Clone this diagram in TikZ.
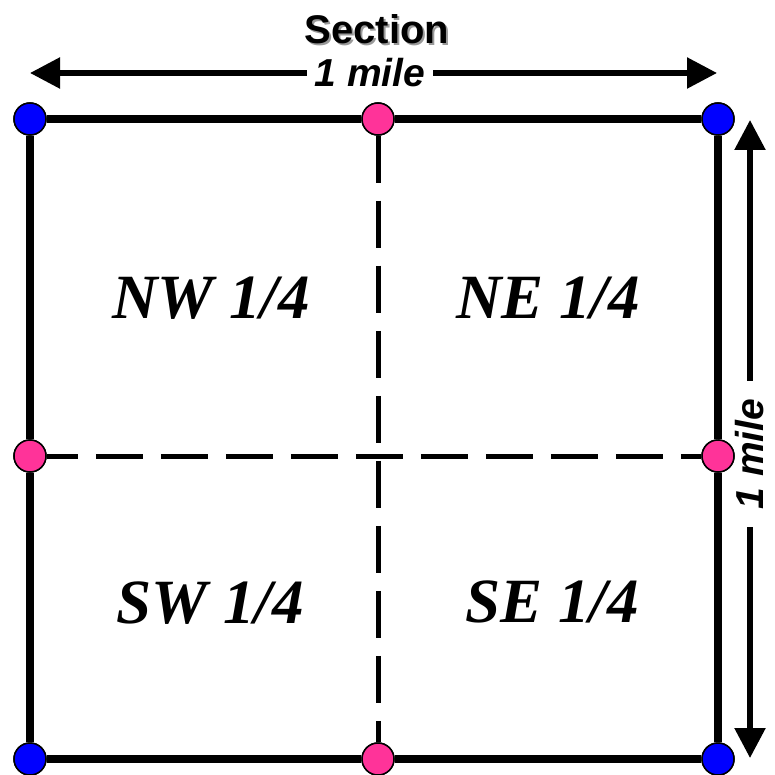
\documentclass[tikz,border=0pt]{standalone}
\usepackage{fontspec}
\setmainfont{Liberation Serif}
\setsansfont{Liberation Sans}
\usetikzlibrary{arrows.meta}

\definecolor{dotpink}{HTML}{FF3399}

\newcommand{\shadowtext}[1]{%
  \makebox[0pt][l]{\hspace{2pt}\raisebox{-2pt}{\textcolor{black!40}{#1}}}#1}

\tikzset{
  corner/.style={circle, draw=black, line width=1.5pt, fill=blue,
    minimum size=32pt, inner sep=0pt},
  midpt/.style={corner, fill=dotpink},
  boundary/.style={line width=7.5pt},
  quarterline/.style={line width=5pt, dash pattern=on 47pt off 18pt},
  dimarrow/.style={line width=5.5pt, -{Triangle[length=30pt, width=30pt]}},
  quarterlbl/.style={font=\fontsize{63}{63}\selectfont\bfseries\itshape},
  dimlbl/.style={font=\fontsize{39}{39}\selectfont\sffamily\bfseries\itshape}
}

\begin{document}
\begin{tikzpicture}[x=1pt, y=-1pt]

\useasboundingbox ( 0, 0 ) rectangle ( 774, 775 );

% Corner and mid points
\node (c-nw) at ( 30, 119 ) [corner] {};
\node (c-ne) at ( 718, 119 ) [corner] {};
\node (c-sw) at ( 30, 759 ) [corner] {};
\node (c-se) at ( 718, 759 ) [corner] {};

\node (m-n) at ( 378, 119 ) [midpt] {};
\node (m-s) at ( 378, 759 ) [midpt] {};
\node (m-w) at ( 30, 456 ) [midpt] {};
\node (m-e) at ( 718, 456 ) [midpt] {};

% Section boundary
\draw [boundary] (c-nw) -- (m-n) -- (c-ne) -- (m-e) -- (c-se)
  -- (m-s) -- (c-sw) -- (m-w) -- (c-nw);

% Quarter lines
\draw [quarterline] (m-n) -- (m-s);
\draw [quarterline, dash phase=16pt] (m-w) -- (m-e);

% Redraw dots on top
\foreach \p/\s in {c-nw/corner, c-ne/corner, c-sw/corner, c-se/corner,
  m-n/midpt, m-s/midpt, m-w/midpt, m-e/midpt}
  \node at (\p) [\s] {};

% Title
\node (sec) at ( 377, 30 ) [font=\fontsize{40}{40}\selectfont\sffamily\bfseries] {\shadowtext{Section}};

% Dimensions
\coordinate (top-l) at ( 30, 73 );
\coordinate (top-r) at ( 717, 73 );
\node (top-lbl) at ( 370, 73 ) [dimlbl, inner xsep=8pt] {1 mile};
\draw [dimarrow] (top-lbl) -- (top-l);
\draw [dimarrow] (top-lbl) -- (top-r);

\coordinate (right-t) at ( 750, 120 );
\coordinate (right-b) at ( 750, 758 );
\node (right-lbl) at ( 750, 454 ) [dimlbl, rotate=90, inner xsep=18pt] {1 mile};
\draw [dimarrow] (right-lbl) -- (right-t);
\draw [dimarrow] (right-lbl) -- (right-b);

% Quarter labels
\node (nw) at ( 211, 298 ) [quarterlbl] {NW 1/4};
\node (ne) at ( 548, 298 ) [quarterlbl] {NE 1/4};
\node (sw) at ( 210, 603 ) [quarterlbl] {SW 1/4};
\node (se) at ( 552, 602 ) [quarterlbl] {SE 1/4};

\end{tikzpicture}
\end{document}
